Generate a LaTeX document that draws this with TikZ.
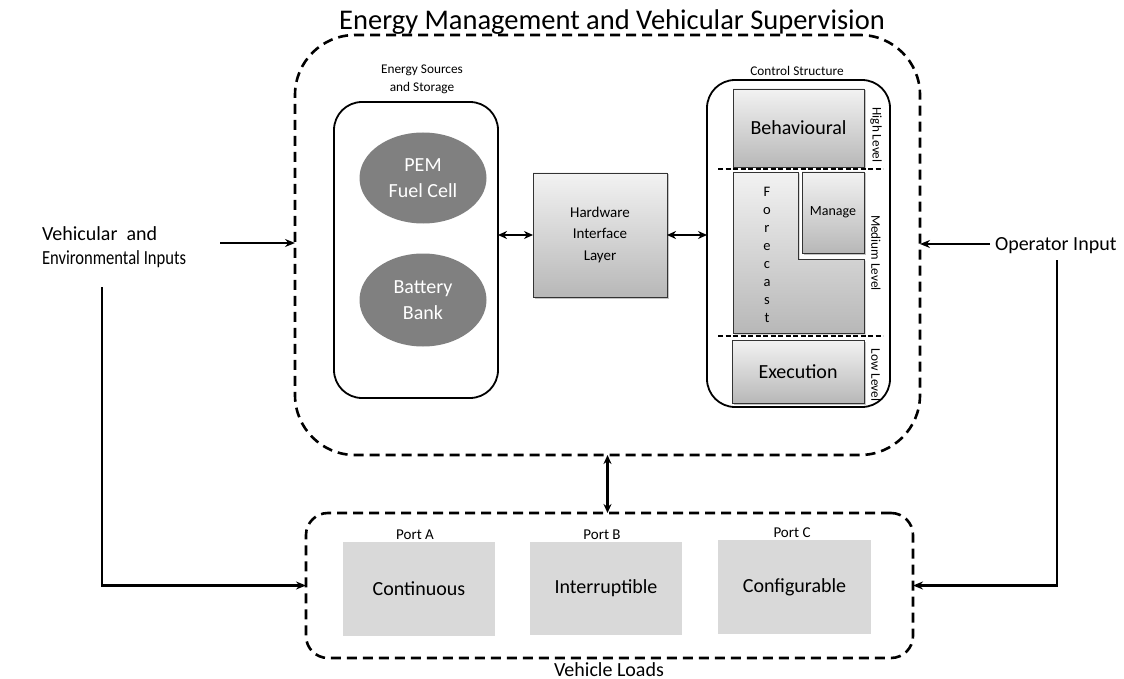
\documentclass[tikz,border=0pt]{standalone}
\usepackage{fontspec}
\usepackage{graphicx}
\setmainfont{Carlito}
\usetikzlibrary{arrows.meta,shadows,shapes.geometric}
\newcommand{\fs}[2]{\fontsize{#1}{#2}\selectfont}
\begin{document}
\begin{tikzpicture}[x=1pt,y=-1pt,
  every node/.style={inner sep=0pt, outer sep=0pt},
  grad/.style={draw=black!80, line width=0.8pt, top color=black!5, bottom color=black!28,
    drop shadow={shadow xshift=1.5pt, shadow yshift=-1.5pt, fill=black!45, opacity=0.5}},
  gbox/.style={grad, rectangle, anchor=north west},
  loadbox/.style={rectangle, anchor=north west, fill=black!15, font=\fs{20}{24}},
  src/.style={ellipse, fill=black!50, text=white, font=\fs{20}{26}, align=center},
  dashbox/.style={draw, line width=2.6pt, dash pattern=on 10pt off 6pt, rectangle, anchor=north west},
  solidbox/.style={draw, line width=1.8pt, rectangle, anchor=north west},
  divider/.style={line width=2.4pt, dash pattern=on 5pt off 2.5pt},
  small/.style={font=\fs{13.3}{18}, align=center},
  level/.style={font=\fs{13.2}{15}, rotate=-90},
  portlabel/.style={font=\fs{15}{18}, anchor=base},
  conn/.style={line width=2.6pt},
  arr/.style={conn, -{Stealth[length=10pt,width=8pt]}},
  darr/.style={conn, {Stealth[length=9pt,width=8pt]}-{Stealth[length=9pt,width=8pt]}},
]
\useasboundingbox (0,0) rectangle (1124,679);

% outer supervision box
\node[dashbox, rounded corners=60pt, minimum width=625pt, minimum height=420pt] (emvs) at (295,35) {};
\node[font=\fs{28.5}{32}, anchor=base] (title) at (612,30) {Energy Management and Vehicular Supervision};

% energy sources
\node[solidbox, rounded corners=28pt, minimum width=164pt, minimum height=296pt] (esrc) at (334,102) {};
\node[small] (eslabel) at (422,79) {Energy Sources\\and Storage};
\node[src, minimum width=127pt, minimum height=91pt] (pem) at (423,178) {PEM\\Fuel Cell};
\node[src, minimum width=127pt, minimum height=93pt] (bat) at (423,300) {Battery\\Bank};

% hardware interface
\node[gbox, minimum width=134pt, minimum height=124pt, font=\fs{15}{21.5}, align=center] (hw) at (533,173) {Hardware\\Interface\\Layer};

% control structure
\node[solidbox, rounded corners=28pt, minimum width=183pt, minimum height=327pt] (ctrl) at (707,80) {};
\node[small] (cslabel) at (797,71) {Control Structure};
\node[gbox, minimum width=131pt, minimum height=78pt, font=\fs{20}{24}] (beh) at (733,89) {Behavioural};
\draw[grad] (733,172) -- (798,172) -- (798,259) -- (864,259) -- (864,333) -- (733,333) -- cycle;
\node[font=\fs{14.5}{18}, align=center] (fc) at (767,255) {F\\o\\r\\e\\c\\a\\s\\t};
\node[gbox, minimum width=62pt, minimum height=81pt, font=\fs{14}{18}] (man) at (802,172) {Manage};
\node[gbox, minimum width=132pt, minimum height=63pt, font=\fs{20}{24}] (exe) at (732,340) {Execution};
\draw[divider] (718,169) -- (883,169);
\draw[divider] (718,336) -- (883,336);
\node[level] (hl) at (876,135) {High Level};
\node[level] (ml) at (876,253) {Medium Level};
\node[level] (ll) at (876,375) {Low Level};

% internal connectors
\draw[darr] (esrc.east |- hw.west) -- (hw.west);
\draw[darr] (hw.east) -- (hw.east -| ctrl.west);

% vehicle loads
\node[dashbox, rounded corners=22pt, minimum width=607pt, minimum height=145pt] (loads) at (306,513) {};
\node[loadbox, minimum width=152pt, minimum height=94pt] (cont) at (343,542) {Continuous};
\node[loadbox, minimum width=152pt, minimum height=93pt] (intr) at (530,542) {Interruptible};
\node[loadbox, minimum width=153pt, minimum height=94pt] (conf) at (718,540) {Configurable};
\node[portlabel] (pa) at (415,539) {Port A};
\node[portlabel] (pb) at (602,539) {Port B};
\node[portlabel] (pc) at (792,537) {Port C};
\node[font=\fs{20}{24}, anchor=base] (vl) at (609,676) {Vehicle Loads};

\draw[darr] (emvs.south) -- (emvs.south |- loads.north);

% external inputs
\node[font=\fs{20}{24}, align=left, anchor=west] (vin) at (42,247) {Vehicular~ and\\\scalebox{0.83}[1]{Environmental Inputs}};
\coordinate (vinA) at (220,243);
\coordinate (vinB) at (102,287);
\draw[arr] (vinA) -- (vinA -| emvs.west);
\draw[arr] (vinB) |- (loads.west);

\node[font=\fs{20}{24}, anchor=base west] (op) at (995,250) {Operator Input};
\coordinate (opA) at (990,244);
\coordinate (opB) at (1057,260);
\draw[arr] (opA) -- (opA -| emvs.east);
\draw[arr] (opB) |- (loads.east);
\end{tikzpicture}
\end{document}
